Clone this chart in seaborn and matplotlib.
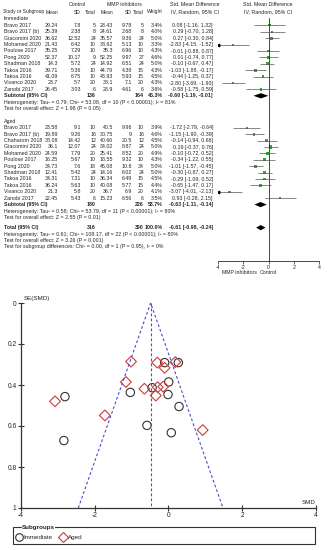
import numpy as np
import pandas as pd
import matplotlib.pyplot as plt
import seaborn as sns
from matplotlib.lines import Line2D
from matplotlib.patches import Rectangle, Polygon

sns.set_style("white")
plt.rcParams['font.family'] = ['Liberation Sans', 'DejaVu Sans']

# ---- forest plot data ----
imm_study = ["Bravo 2017", "Bravo 2017 (b)", "Giacomini 2020", "Mohamed 2020", "Poulose 2017",
             "Pong 2020", "Shadman 2018", "Takoa 2016", "Takoa 2016", "Vivanco 2020", "Zanobi 2017"]
imm_ctl_mean = [29.24, 25.39, 36.62, 21.43, 35.25, 52.37, 14.3, 39.71, 41.09, 23.7, 26.45]
imm_ctl_sd = [7.8, 2.38, 12.52, 6.42, 7.29, 10.17, 5.72, 5.36, 6.75, 5.7, 3.03]
imm_ctl_n = [5, 8, 24, 10, 10, 9, 24, 10, 10, 20, 6]
imm_mmp_mean = [28.43, 24.61, 35.57, 38.62, 35.3, 52.25, 14.92, 44.79, 43.93, 38.1, 28.9]
imm_mmp_sd = [9.78, 2.68, 9.36, 5.13, 6.96, 9.97, 6.51, 4.38, 5.93, 7.1, 4.61]
imm_mmp_n = [5, 8, 24, 10, 10, 27, 24, 15, 15, 20, 6]
imm_weight = [3.4, 4.0, 5.0, 3.3, 4.3, 4.6, 5.0, 4.3, 4.5, 4.3, 3.6]
imm_smd = [0.08, 0.29, 0.27, -2.83, -0.01, 0.01, -0.10, -1.03, -0.44, -2.80, -0.58]
imm_lo = [-1.16, -0.70, -0.30, -4.15, -0.88, -0.74, -0.67, -1.88, -1.25, -3.69, -1.75]
imm_hi = [1.32, 1.28, 0.84, -1.52, 0.87, 0.77, 0.47, -0.17, 0.37, -1.90, 0.59]

aged_study = ["Bravo 2017", "Bravo 2017 (b)", "Chaharom 2018", "Giacomini 2020", "Mohamed 2020",
              "Poulose 2017", "Pong 2020", "Shadman 2018", "Takoa 2016", "Takoa 2016",
              "Vivanco 2020", "Zanobi 2017"]
aged_ctl_mean = [23.58, 19.89, 38.08, 36.1, 24.59, 16.25, 34.73, 12.41, 34.31, 36.24, 21.3, 22.45]
aged_ctl_sd = [9.1, 9.26, 14.42, 12.07, 7.79, 5.67, 7.6, 5.42, 7.31, 5.63, 5.8, 5.43]
aged_ctl_n = [10, 16, 12, 24, 20, 10, 18, 24, 10, 10, 20, 6]
aged_mmp_mean = [40.5, 30.75, 40.66, 34.02, 25.41, 18.55, 45.08, 14.16, 36.34, 40.08, 36.7, 15.23]
aged_mmp_sd = [9.96, 9, 20.5, 8.87, 8.52, 9.32, 10.8, 6.02, 6.49, 5.77, 6.9, 6.56]
aged_mmp_n = [10, 16, 12, 24, 20, 10, 34, 24, 15, 15, 20, 6]
aged_weight = [3.9, 4.6, 4.5, 5.0, 4.9, 4.3, 5.0, 5.0, 4.5, 4.4, 4.1, 3.5]
aged_smd = [-1.72, -1.15, -0.14, 0.19, -0.10, -0.34, -1.01, -0.30, -0.29, -0.65, -3.07, 0.93]
aged_lo = [-2.79, -1.90, -0.94, -0.37, -0.72, -1.22, -1.57, -0.87, -1.09, -1.47, -4.01, -0.28]
aged_hi = [-0.64, -0.39, 0.66, 0.76, 0.52, 0.55, -0.45, 0.27, 0.52, 0.17, -2.13, 2.15]

# subtotal / total rows: control n, MMP n, weight, smd, lo, hi
imm_sub = [136, 164, 46.3, -0.60, -1.19, -0.01]
aged_sub = [180, 226, 53.7, -0.63, -1.11, -0.14]
total = [316, 390, 100.0, -0.61, -0.98, -0.24]

imm_notes = ["Heterogeneity: Tau\u00b2 = 0.79; Chi\u00b2 = 53.08, df = 10 (P < 0.00001); I\u00b2 = 81%",
             "Test for overall effect: Z = 1.98 (P = 0.05)"]
aged_notes = ["Heterogeneity: Tau\u00b2 = 0.58; Chi\u00b2 = 53.79, df = 11 (P < 0.00001); I\u00b2 = 80%",
              "Test for overall effect: Z = 2.55 (P = 0.01)"]
total_notes = ["Heterogeneity: Tau\u00b2 = 0.61; Chi\u00b2 = 108.17, df = 22 (P < 0.00001); I\u00b2 = 80%",
               "Test for overall effect: Z = 3.26 (P = 0.001)",
               "Test for subgroup differences: Chi\u00b2 = 0.00, df = 1 (P = 0.95), I\u00b2 = 0%"]

forest_ticks = [-4, -2, 0, 2, 4]
funnel_center = -0.48
funnel_xticks = [-4, -2, 0, 2, 4]
funnel_yticks = [0, 0.2, 0.4, 0.6, 0.8, 1]

# ---- layout (pixel units of the 328x550 picture) ----
W, H = 328, 550
FS = 3.8
COLS = {"cm": 58, "csd": 81, "cn": 96, "em": 113, "esd": 132, "en": 144, "w": 163, "ci": 213}
LINE = 6.4


def ypos(i):
    return 19 + (i - 2) * LINE


fig = plt.figure(figsize=(W / 100, H / 100), dpi=100)
tab = fig.add_axes([0, 0, 1, 1])
tab.set_xlim(0, W)
tab.set_ylim(H, 0)
tab.axis("off")


def txt(x, y, s, ha="left", bold=False, fs=FS, **kw):
    tab.text(x, y, s, ha=ha, va="center", fontsize=fs,
             fontweight="bold" if bold else "normal", **kw)


def fmt(v):
    return f"{v:g}"


def ci_str(m, lo, hi):
    return f"{m:.2f} [{lo:.2f}, {hi:.2f}]"


# headers
txt(77, 5, "Control", ha="center")
txt(124, 5, "MMP inhibitors", ha="center")
txt(195, 5, "Std. Mean Difference", ha="center")
txt(268, 5, "Std. Mean Difference", ha="center")
y1 = 12
txt(3, y1, "Study or Subgroup", fs=3.5)
for key, lab in [("cm", "Mean"), ("csd", "SD"), ("cn", "Total"), ("em", "Mean"),
                 ("esd", "SD"), ("en", "Total"), ("w", "Weight")]:
    txt(COLS[key], y1, lab, ha="right", fs=3.6)
txt(195, y1, "IV, Random, 95% CI", ha="center")
txt(268, y1, "IV, Random, 95% CI", ha="center")

groups = [
    ("Immediate", 2, imm_study, imm_ctl_mean, imm_ctl_sd, imm_ctl_n, imm_mmp_mean, imm_mmp_sd,
     imm_mmp_n, imm_weight, imm_smd, imm_lo, imm_hi, imm_sub, imm_notes),
    ("Aged", 18, aged_study, aged_ctl_mean, aged_ctl_sd, aged_ctl_n, aged_mmp_mean, aged_mmp_sd,
     aged_mmp_n, aged_weight, aged_smd, aged_lo, aged_hi, aged_sub, aged_notes),
]

ax = fig.add_axes([218 / W, 1 - 261 / H, 101 / W, 261 / H])
ax.patch.set_alpha(0)
ax.set_xlim(-4, 4)
ax.set_ylim(261, 0)

study_rows = []
summary_rows = []
for (name, start, st, cm, csd, cn, em, esd, en, w, smd, lo, hi, sub, notes) in groups:
    txt(4, ypos(start), name)
    for k in range(len(st)):
        y = ypos(start + 1 + k)
        txt(4, y, st[k])
        for key, v in [("cm", cm[k]), ("csd", csd[k]), ("cn", cn[k]), ("em", em[k]),
                       ("esd", esd[k]), ("en", en[k])]:
            txt(COLS[key], y, fmt(v), ha="right")
        txt(COLS["w"], y, f"{w[k]:.1f}%", ha="right")
        txt(COLS["ci"], y, ci_str(smd[k], lo[k], hi[k]), ha="right")
        study_rows.append(dict(y=y, smd=smd[k], lo=lo[k], hi=hi[k], w=w[k]))
    ys = ypos(start + 1 + len(st))
    txt(4, ys, "Subtotal (95% CI)", bold=True)
    txt(COLS["cn"], ys, str(sub[0]), ha="right", bold=True)
    txt(COLS["en"], ys, str(sub[1]), ha="right", bold=True)
    txt(COLS["w"], ys, f"{sub[2]:.1f}%", ha="right", bold=True)
    txt(COLS["ci"], ys, ci_str(*sub[3:]), ha="right", bold=True)
    summary_rows.append((ys, sub))
    for j, n in enumerate(notes):
        txt(4, ypos(start + 2 + len(st) + j), n)

yt = ypos(34.6)
txt(4, yt, "Total (95% CI)", bold=True)
txt(COLS["cn"], yt, str(total[0]), ha="right", bold=True)
txt(COLS["en"], yt, str(total[1]), ha="right", bold=True)
txt(COLS["w"], yt, f"{total[2]:.1f}%", ha="right", bold=True)
txt(COLS["ci"], yt, ci_str(*total[3:]), ha="right", bold=True)
summary_rows.append((yt, total))
for j, n in enumerate(total_notes):
    txt(4, ypos(35.6 + j), n)

# forest graphic
df = pd.DataFrame(study_rows)
ax.axvline(0, ymin=0, ymax=1 - 18 / 261, color="black", lw=0.5)
ax.hlines(df["y"], df["lo"].clip(-4, 4), df["hi"].clip(-4, 4), color="#555555", lw=0.5)
left_cut = df[df["lo"] < -4]
ax.plot([-4] * len(left_cut), left_cut["y"], marker="<", ls="none", ms=1.8, color="black")
sns.scatterplot(data=df, x="smd", y="y", size="w", sizes=(2, 5), marker="s",
                color="#33aa33", edgecolor="none", legend=False, ax=ax)
for (y, s) in summary_rows:
    ax.add_patch(Polygon([[s[4], y], [s[3], y - 2.6], [s[5], y], [s[3], y + 2.6]],
                         closed=True, color="black", lw=0))
for sp in ["top", "left", "right"]:
    ax.spines[sp].set_visible(False)
ax.spines["bottom"].set_linewidth(0.5)
ax.spines["bottom"].set_color("black")
ax.set_xticks(forest_ticks)
ax.set_xticklabels([str(t) for t in forest_ticks])
ax.set_yticks([])
ax.tick_params(axis="x", labelsize=FS, length=2, width=0.5, pad=1, direction="out", bottom=True)
ax.set_xlabel("")
ax.set_ylabel("")
txt(257, 272, "MMP inhibitors", ha="right")
txt(260, 272, "Control")

# ---- funnel plot ----
fun = pd.DataFrame({
    "smd": imm_smd + aged_smd,
    "se": [(h - l) / 3.92 for l, h in zip(imm_lo + aged_lo, imm_hi + aged_hi)],
    "grp": ["Immediate"] * len(imm_smd) + ["Aged"] * len(aged_smd),
})
ax2 = fig.add_axes([20.7 / W, 1 - 508 / H, 295.3 / W, 205 / H])
ax2.patch.set_alpha(0)
ax2.set_xlim(-4, 4)
ax2.set_ylim(1, 0)
blue = "#4b4bcc"
ax2.plot([funnel_center - 1.96, funnel_center, funnel_center + 1.96], [1, 0, 1],
         ls=(0, (2.5, 2)), color=blue, lw=0.8)
ax2.plot([funnel_center, funnel_center], [0, 1], ls=(0, (2.5, 2)), color=blue, lw=0.8)
imm = fun[fun["grp"] == "Immediate"]
aged = fun[fun["grp"] == "Aged"]
sns.scatterplot(data=imm, x="smd", y="se", marker="o", s=36, fc="none", ec="#333333",
                linewidth=0.8, ax=ax2, legend=False)
sns.scatterplot(data=aged, x="smd", y="se", marker="D", s=30, fc="none", ec="#d03a3a",
                linewidth=0.8, ax=ax2, legend=False)
for sp in ["top", "right"]:
    ax2.spines[sp].set_visible(False)
for sp in ["left", "bottom"]:
    ax2.spines[sp].set_linewidth(0.9)
    ax2.spines[sp].set_color("#333333")
ax2.set_xticks(funnel_xticks)
ax2.set_xticklabels([str(t) for t in funnel_xticks])
ax2.set_yticks(funnel_yticks)
ax2.set_yticklabels([f"{t:g}" for t in funnel_yticks])
ax2.tick_params(labelsize=4.8, length=4, width=0.8, direction="inout", pad=1,
                bottom=True, left=True, colors="#333333", labelcolor="#222222")
ax2.set_xlabel("")
ax2.set_ylabel("")
ax2.text(-3.93, -0.02, "SE(SMD)", fontsize=4.5, va="center", ha="left")
ax2.text(3.98, 0.975, "SMD", fontsize=4.5, va="center", ha="right")

# subgroup legend box
tab.add_patch(Rectangle((12.7, 527), 302.3, 17, fill=False, ec="#333333", lw=0.8))
tab.text(22, 527, "Subgroups", fontsize=4.5, fontweight="bold", va="center", ha="left",
         bbox=dict(fc="white", ec="none", pad=0.3))
handles = [Line2D([], [], marker="o", ls="none", mfc="none", mec="#333333", ms=5.5, mew=0.8),
           Line2D([], [], marker="D", ls="none", mfc="none", mec="#d03a3a", ms=5, mew=0.8)]
fig.legend(handles, ["Immediate", "Aged"], loc="center left", ncol=2,
           bbox_to_anchor=(13 / W, 1 - 537 / H), frameon=False, fontsize=4.5,
           handletextpad=0.2, columnspacing=1.2, handlelength=1.0, borderpad=0)

fig.savefig("out.png", dpi=100)
